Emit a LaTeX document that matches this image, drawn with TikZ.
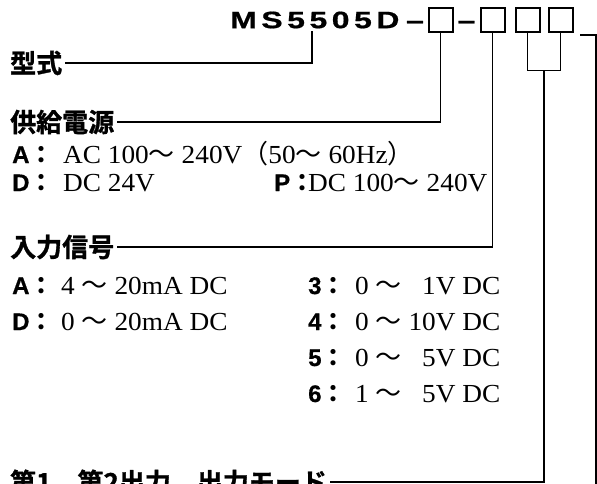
\documentclass[tikz,border=0pt]{standalone}
\usepackage{fontspec}
\setmainfont{Liberation Serif}[FakeStretch=1.05]
\newfontfamily\lblfont{Liberation Sans}[FakeBold=0.6]
\newfontfamily\jpfont{Noto Sans CJK JP}
\newfontfamily\jpbold{Noto Sans CJK JP Bold}[FakeBold=1.2]
\newfontfamily\codefont{Liberation Sans}[FakeStretch=1.35, LetterSpace=19, FakeBold=0.8]
\usetikzlibrary{positioning,calc}

\newcommand{\wavedash}{{\jpfont ～}}
\newcommand{\fwcolon}{{\jpfont ：}}

\begin{document}
\begin{tikzpicture}[
    x=1pt, y=-1pt,
    code/.style={font=\codefont\bfseries\fontsize{23.7}{24}\selectfont, anchor=west, inner sep=0pt},
    sep/.style={font=\codefont\bfseries\fontsize{23.7}{24}\selectfont, anchor=base, inner sep=0pt},
    cell/.style={draw, line width=2pt, minimum width=24pt, minimum height=24pt, inner sep=0pt},
    head/.style={font=\jpbold\fontsize{26}{26}\selectfont, anchor=west, inner sep=0pt},
    key/.style={font=\lblfont\bfseries\fontsize{24}{24}\selectfont, anchor=base west, inner sep=0pt},
    val/.style={font=\fontsize{26}{28}\selectfont, anchor=base west, inner sep=0pt},
    lead/.style={line width=1.8pt}
]
\useasboundingbox (0,0) rectangle (597,483);
\clip (0,0) rectangle (597,483);

% Model code
\node[code] (code) at (230,20) {MS5505D};
\node[sep] (d1) at (415,28.5) {–};
\node[cell] (b1) at (440.5,19.5) {};
\node[sep] (d2) at (466.5,28.5) {–};
\node[cell] (b2) at (492.5,19.5) {};
\node[cell] (b3) at (527.5,19.5) {};
\node[cell] (b4) at (560.5,19.5) {};
\coordinate (m5) at (312,31);
\coordinate (nx) at (580,35);
\coordinate (nxend) at (596,490);

% Headings
\node[head] (kata) at (10,63) {型式};
\node[head] (pwr) at (10,122) {供給電源};
\node[head] (sig) at (10,247) {入力信号};
\node[head] (outm) at (10,482) {第1、第2出力、出力モード};

% Power supply
\node[key] (pa) at (12,163) {A\fwcolon};
\node[val] (pav) at (63,163) {AC 100\wavedash\ 240V{\jpfont （}50\wavedash\ 60Hz{\jpfont ）}};
\node[key] (pd) at (12,191) {D\fwcolon};
\node[val] (pdv) at (63,191) {DC 24V};
\node[key] (pp) at (274,191) {P\fwcolon};
\node[val] (ppv) at (308,191) {DC 100\wavedash\ 240V};

% Input signal
\node[key] (sa) at (12,294) {A\fwcolon};
\node[val] (sav) at (61,294) {4 \wavedash\ 20mA DC};
\node[key] (sd) at (12,330) {D\fwcolon};
\node[val] (sdv) at (61,330) {0 \wavedash\ 20mA DC};
\node[key] (s3) at (308,294) {3\fwcolon};
\node[val] (s3v) at (355,294) {0 \wavedash\ \phantom{1}1V DC};
\node[key] (s4) at (308,330) {4\fwcolon};
\node[val] (s4v) at (355,330) {0 \wavedash\ 10V DC};
\node[key] (s5) at (308,366) {5\fwcolon};
\node[val] (s5v) at (355,366) {0 \wavedash\ \phantom{1}5V DC};
\node[key] (s6) at (308,402) {6\fwcolon};
\node[val] (s6v) at (355,402) {1 \wavedash\ \phantom{1}5V DC};

% Leader lines
\draw[lead] (m5) |- ([xshift=3pt]kata.east);
\draw[lead] (b1.south) |- ([xshift=3pt]pwr.east);
\draw[lead] (b2.south) |- ([xshift=3pt]sig.east);
\coordinate (br) at ($(b3.south)!.5!(b4.south)+(0,38)$);
\draw[lead] (b3.south) |- (br) -| (b4.south);
\draw[lead] (br) |- ([xshift=3pt]outm.east);
\draw[lead] (nx) -| (nxend);
\end{tikzpicture}
\end{document}
